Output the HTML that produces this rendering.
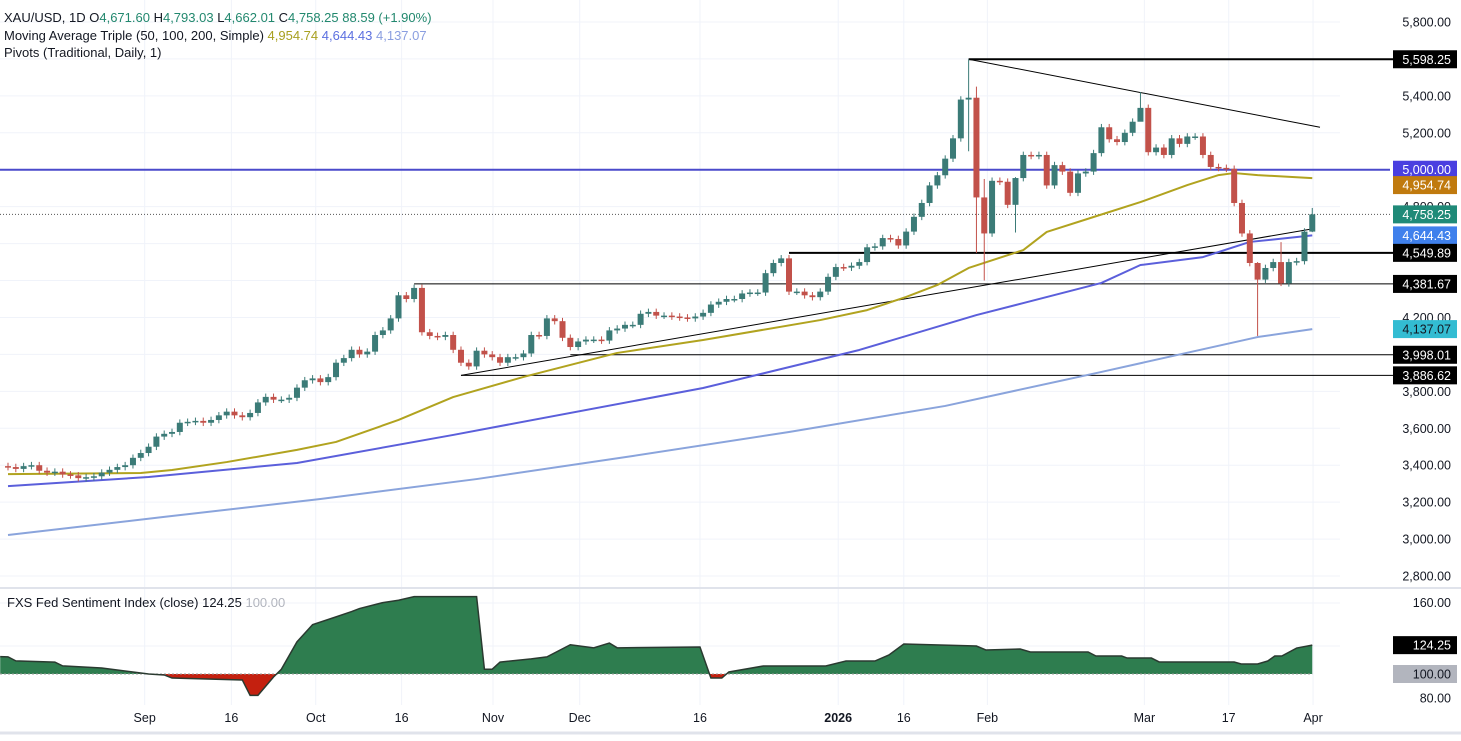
<!DOCTYPE html>
<html><head><meta charset="utf-8">
<style>
html,body{margin:0;padding:0;background:#fff;}
body{width:1461px;height:736px;overflow:hidden;font-family:"Liberation Sans",sans-serif;}
svg text{font-family:"Liberation Sans",sans-serif;}
</style></head>
<body>
<svg id="chart" width="1461" height="736" xmlns="http://www.w3.org/2000/svg">
<g id="grid"></g>
<g id="main"></g>
<g id="lower"></g>
<g id="axes"></g>
<g id="legend">
<text x="4" y="22" font-size="13" fill="#131722">XAU/USD, 1D  O<tspan fill="#22886e">4,671.60</tspan>  H<tspan fill="#22886e">4,793.03</tspan>  L<tspan fill="#22886e">4,662.01</tspan>  C<tspan fill="#22886e">4,758.25</tspan>  <tspan fill="#22886e">88.59 (+1.90%)</tspan></text>
<text x="4" y="40" font-size="13" fill="#131722">Moving Average Triple (50, 100, 200, Simple)  <tspan fill="#a8a020">4,954.74</tspan>  <tspan fill="#5b6fe0">4,644.43</tspan>  <tspan fill="#8a9ee0">4,137.07</tspan></text>
<text x="4" y="57" font-size="13" fill="#131722">Pivots (Traditional, Daily, 1)</text>
<text x="7" y="607" font-size="13" fill="#131722">FXS Fed Sentiment Index (close)  124.25  <tspan fill="#b2b5be">100.00</tspan></text>
</g>
</svg>
<script>
// ---- data ----
const closes=[3390,3380,3395,3400,3370,3360,3365,3350,3345,3330,
3335,3340,3360,3375,3390,3400,3440,3466,3500,3555,
3570,3580,3630,3635,3640,3630,3645,3670,3690,3670,
3660,3683,3740,3770,3755,3755,3765,3820,3860,3870,
3850,3877,3955,3980,4025,4000,4015,4105,4130,4195,
4320,4300,4360,4120,4100,4095,4105,4025,3955,3935,
4020,4000,3985,3955,3985,3985,4005,4105,4100,4195,
4180,4090,4040,4070,4080,4080,4075,4130,4140,4160,
4160,4220,4230,4210,4210,4205,4200,4195,4205,4225,
4270,4285,4300,4300,4330,4335,4335,4440,4495,4520,
4340,4340,4320,4310,4340,4420,4473,4470,4480,4500,
4580,4585,4630,4625,4590,4665,4745,4820,4915,4970,
5060,5170,5380,5390,4850,4655,4940,4935,4810,4955,
5080,5075,5080,4915,5025,4990,4875,4980,4990,5090,
5230,5165,5150,5200,5260,5335,5095,5120,5080,5170,
5140,5180,5180,5080,5015,5010,5005,4820,4655,4495,
4405,4468,4500,4385,4500,4505,4665,4758.25];
const firstOpen=3395;
const wickIdx=[123,124,125,129,145,160,163,167];
const wickHigh=[5598,5450,4950,4960,5420,4500,4608,4793];
const wickLow=[5100,4550,4400,4660,5280,4100,4370,4662];
const ma50Idx=[0,17,21,28,37,42,50,57,66,78,89,104,110,115,119,123,130,133,139,145,151,155,157,160,167];
const ma50=[3352,3358,3374,3417,3483,3526,3645,3769,3878,4008,4078,4186,4240,4311,4376,4468,4565,4663,4744,4825,4917,4971,4982,4971,4954.74];
const ma100Idx=[0,18,37,57,89,109,124,130,140,145,153,159,167];
const ma100=[3287,3336,3412,3564,3818,4024,4213,4278,4387,4484,4527,4609,4644.43];
const ma200Idx=[0,20,40,60,80,100,120,140,160,167];
const ma200=[3022,3120,3217,3325,3450,3580,3721,3905,4094,4137.07];
const pivotVals=[5598.25,4549.89,4381.67,3998.01,3886.62];
const pivotStart=[123,100,52,72,58];
const pivotWidth=[2,2,1,1,1];
const sentIdx=[-1,0,1,6,7,12,16,18,20,21,30,31,32,34,35,37,39,42,44,45,48,50,52,60,61,62,63,67,69,72,75,77,78,88.6,90,91.4,92.3,96.7,104.7,107.3,111,112.8,114.7,124,125.2,129.6,130.9,138.3,139.3,142.6,143.3,146.4,147.4,157,157.9,160,161.3,162.2,163.1,165,167];
const sentVal=[114.6,114.4,111,110,106.8,105,101.7,100,99.2,96.6,95,82,82,97.5,104,127,141.5,148,152.5,155,160,162,165,165,104,104,110,112.7,114.4,124.6,122,126,122,122.7,96.6,96.6,101.7,106.7,106.7,110.9,110.9,116,125.2,123.5,120.2,121,118.5,118.5,115.1,115.1,113.4,113.4,110.1,110.1,108.4,108.4,110.9,115.1,115.1,121.8,124.25];
const priceTicks=[5800,5600,5400,5200,4800,4600,4400,4200,3800,3600,3400,3200,3000,2800];
const priceTickLabels=["5,800.00","5,600.00","5,400.00","5,200.00","4,800.00","4,600.00","4,400.00","4,200.00","3,800.00","3,600.00","3,400.00","3,200.00","3,000.00","2,800.00"];
const dateIdx=[17.5,28.6,39.4,50.4,62.1,73.2,88.6,106.3,114.7,125.4,145.5,156.3,167.1];
const dateLabels=["Sep","16","Oct","16","Nov","Dec","16","2026","16","Feb","Mar","17","Apr"];
const sentTicks=[160,80];
// ---- scales ----
const NS="http://www.w3.org/2000/svg";
const xOf=i=>8+i*7.81;
const yOf=p=>22+(5800-p)*0.18467;
const ySent=v=>674-(v-100)*1.19;
function mk(tag,attrs,parent){const e=document.createElementNS(NS,tag);for(const k in attrs)e.setAttribute(k,attrs[k]);parent.appendChild(e);return e;}
const grid=document.getElementById('grid'),main=document.getElementById('main'),lower=document.getElementById('lower'),axes=document.getElementById('axes');
for(let p=2800;p<=5800;p+=200){const g=mk('line',{x1:0,x2:1340,y1:yOf(p),y2:yOf(p),stroke:'#f0f3fa'},grid);

}
dateIdx.forEach(d=>{const g=mk('line',{x1:xOf(d),x2:xOf(d),y1:0,y2:705,stroke:'#f0f3fa'},grid);

});
[603,646].forEach(y=>{mk('line',{x1:0,x2:1340,y1:y,y2:y,stroke:'#f0f3fa'},grid);});
const sep=mk('line',{x1:0,x2:1461,y1:588,y2:588,stroke:'#e0e3eb','stroke-width':2},axes);


const l5000=mk('line',{x1:0,x2:1390,y1:yOf(5000),y2:yOf(5000),stroke:'#4a4acb','stroke-width':2},main);


const lcur=mk('line',{x1:0,x2:1390,y1:yOf(4758.25),y2:yOf(4758.25),stroke:'#555','stroke-dasharray':'1 2'},main);


pivotVals.forEach((v,k)=>{const l=mk('line',{x1:xOf(pivotStart[k]),x2:1393,y1:yOf(v),y2:yOf(v),stroke:'#000','stroke-width':pivotWidth[k]},main);

});
const t1=mk('line',{x1:xOf(58),y1:yOf(3886.62),x2:xOf(167),y2:yOf(4680),stroke:'#000','stroke-width':1},main);


const t2=mk('line',{x1:xOf(123),y1:yOf(5598.25),x2:1320,y2:yOf(5230),stroke:'#000','stroke-width':1},main);


function maLine(idx,arr,color,name){const pts=idx.map((i,k)=>xOf(i)+','+yOf(arr[k])).join(' ');
const pl=mk('polyline',{points:pts,fill:'none',stroke:color,'stroke-width':2,'stroke-linejoin':'round'},main);

}
maLine(ma200Idx,ma200,'#8aa4dc','ma200-line');
maLine(ma100Idx,ma100,'#5b5fdb','ma100-line');
maLine(ma50Idx,ma50,'#b1a31f','ma50-line');
closes.forEach((c,i)=>{const o=i===0?firstOpen:closes[i-1];
let h=Math.max(o,c)+18,l=Math.min(o,c)-18;const w=wickIdx.indexOf(i);if(w>=0){h=wickHigh[w];l=wickLow[w];}
const up=c>=o,col=up?'#3b7b77':'#c2514a',x=xOf(i);
const g=mk('g',{},main);


mk('line',{x1:x,x2:x,y1:yOf(h),y2:yOf(l),stroke:col,'stroke-width':1},g);
const yt=yOf(Math.max(o,c)),yb=yOf(Math.min(o,c));
mk('rect',{x:x-3,y:yt,width:6,height:Math.max(1.5,yb-yt),fill:col},g);});
const base=ySent(100);
const linePts=sentIdx.map((i,k)=>[xOf(i),ySent(sentVal[k])]);
const areaD='M'+linePts[0][0]+','+base+' '+linePts.map(p=>'L'+p[0]+','+p[1]).join(' ')+' L'+linePts[linePts.length-1][0]+','+base+' Z';
const defs=mk('defs',{},lower);
const c1=mk('clipPath',{id:'above'},defs);mk('rect',{x:0,y:590,width:1340,height:base-590},c1);
const c2=mk('clipPath',{id:'below'},defs);mk('rect',{x:0,y:base,width:1340,height:40},c2);
const ga=mk('path',{d:areaD,fill:'#2e7d4f','clip-path':'url(#above)'},lower);


const ra=mk('path',{d:areaD,fill:'#c4200f','clip-path':'url(#below)'},lower);


const bl=mk('line',{x1:0,x2:xOf(167),y1:base,y2:base,stroke:'#9a9a9a','stroke-dasharray':'2 2'},lower);


const sl=mk('polyline',{points:linePts.map(p=>p.join(',')).join(' '),fill:'none',stroke:'#2a3a30','stroke-width':1.5},lower);


priceTicks.forEach((p,k)=>{const t=mk('text',{x:1451,y:yOf(p)+4.5,'font-size':12.5,'text-anchor':'end',fill:'#131722'},axes);t.textContent=priceTickLabels[k];

});
function tag(v,txt,bg,fg,name,yfn){const y=yfn(v);const g=mk('g',{},axes);


mk('rect',{x:1393,y:y-9,width:64,height:18,fill:bg},g);
const t=mk('text',{x:1451,y:y+4.5,'font-size':12.5,'text-anchor':'end',fill:fg},g);t.textContent=txt;}
tag(5598.25,'5,598.25','#000','#fff','pivot-label',yOf);
tag(5000,'5,000.00','#4a3fe0','#fff','level-5000-label',yOf);
tag(4954.74,'4,954.74','#c07a0e','#fff','ma50-label',p=>yOf(p)+7);
tag(4758.25,'4,758.25','#1f8a78','#fff','last-price-label',yOf);
tag(4644.43,'4,644.43','#3f80ec','#fff','ma100-label',yOf);
tag(4549.89,'4,549.89','#000','#fff','pivot-label',yOf);
tag(4381.67,'4,381.67','#000','#fff','pivot-label',yOf);
tag(4137.07,'4,137.07','#33bcd2','#131722','ma200-label',yOf);
tag(3998.01,'3,998.01','#000','#fff','pivot-label',yOf);
tag(3886.62,'3,886.62','#000','#fff','pivot-label',yOf);
sentTicks.forEach(v=>{const t=mk('text',{x:1451,y:ySent(v)+4.5,'font-size':12.5,'text-anchor':'end',fill:'#131722'},axes);t.textContent=v.toFixed(2);

});
tag(124.25,'124.25','#000','#fff','sentiment-last-label',ySent);
tag(100,'100.00','#b2b5be','#131722','sentiment-baseline-label',ySent);
dateIdx.forEach((d,k)=>{const t=mk('text',{x:xOf(d),y:722,'font-size':12.5,'text-anchor':'middle',fill:'#131722','font-weight':dateLabels[k]==='2026'?'bold':'normal'},axes);t.textContent=dateLabels[k];

});
const bb=mk('line',{x1:0,x2:1461,y1:733,y2:733,stroke:'#e0e3eb','stroke-width':3},axes);


</script>
</body></html>
